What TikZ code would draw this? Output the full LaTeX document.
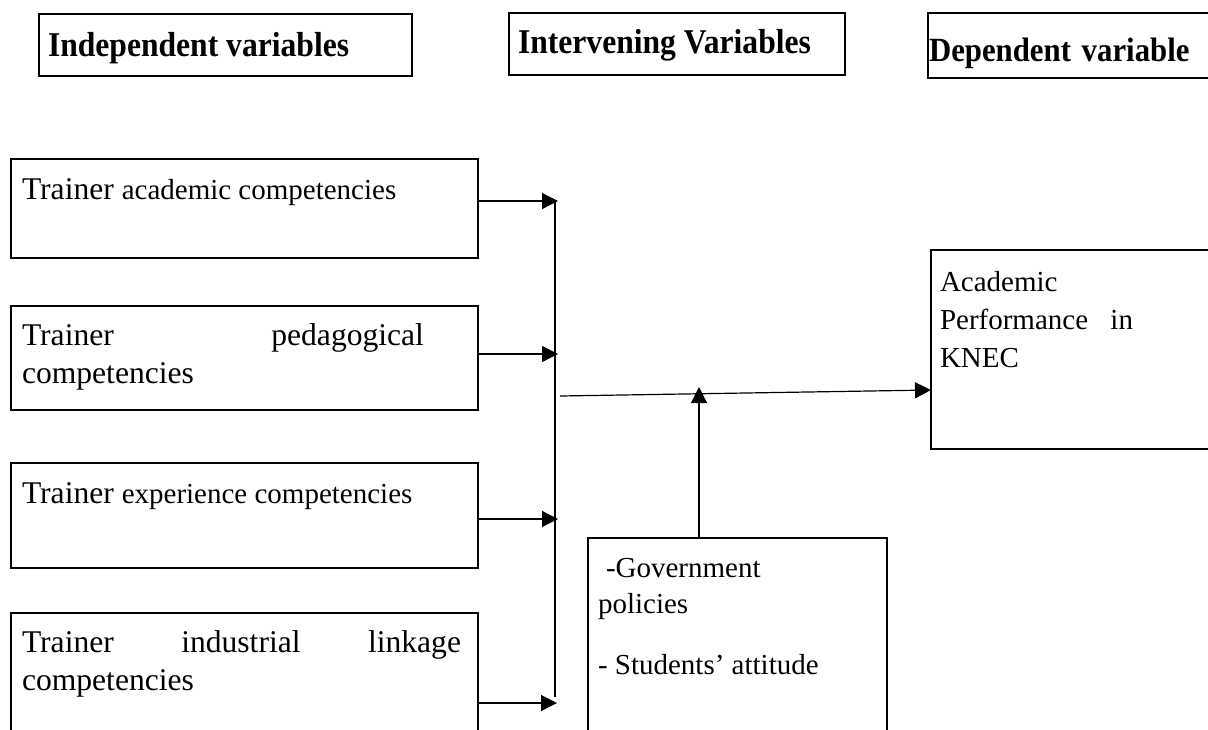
\documentclass[tikz,border=0pt]{standalone}
\usepackage{fontspec}
\usepackage{graphicx}
\setmainfont{Liberation Serif}
\usetikzlibrary{arrows.meta}

\newcommand{\minorsize}{\fontsize{14.5}{19}\selectfont}
\newcommand{\tallhead}[1]{\scalebox{1}[1.1]{#1}}

\begin{document}
\begin{tikzpicture}[
		x=0.5pt, y=-0.5pt,
		every node/.style={rectangle, draw, anchor=north west, inner sep=0pt, outer sep=0pt},
		headbox/.style={line width=0.6pt, inner xsep=4.5pt, font=\fontsize{15.8}{19}\selectfont\bfseries},
		indbox/.style={line width=1.1pt, inner xsep=5.5pt, font=\fontsize{15.8}{19}\selectfont},
		plainbox/.style={line width=0.7pt, font=\minorsize},
		link/.style={line width=0.6pt, -{Triangle[length=8pt,width=8pt]}}
	]
  \useasboundingbox (0,0) rectangle (1208,729);
  \clip (0,0) rectangle (1208,729);
  \node (hIndep) [headbox] at (39,14) {\parbox[b][31pt][t]{177.5pt}{\rule{0pt}{21pt}\tallhead{Independent variables}}};
  \node (hInterv) [headbox] at (509,13) {\parbox[b][31pt][t]{159pt}{\rule{0pt}{20pt}\tallhead{Intervening Variables}}};
  \node (hDep) [headbox, inner xsep=0.5pt] at (928,13) {\parbox[b][32.5pt][t]{149pt}{\fontsize{15.4}{19}\selectfont\rule{0pt}{24pt}\tallhead{Dependent\hspace{1.5pt} variable}}};
  \node (indA) [indbox] at (11,159) {\parbox[b][49.5pt][t]{222.5pt}{\rule{0pt}{20pt}Trainer {\minorsize academic competencies}}};
  \node (indB) [indbox] at (11,306) {\parbox[b][52pt][t]{222.5pt}{\rule{0pt}{19.5pt}\hbox to 201pt{Trainer\hfill pedagogical}\\ competencies}};
  \node (indC) [indbox] at (11,463) {\parbox[b][52.5pt][t]{222.5pt}{\rule{0pt}{20pt}Trainer {\minorsize experience competencies}}};
  \node (indD) [indbox] at (11,613) {\parbox[b][93.5pt][t]{222.5pt}{\rule{0pt}{19.5pt}\hbox to 219.5pt{Trainer\hfill industrial\hfill linkage}\\ competencies}};
  \node (depAP) [plainbox, line width=0.8pt, inner xsep=4.5pt] at (931,250) {\parbox[b][99.5pt][t]{141pt}{\rule{0pt}{20.5pt}Academic\\ \hbox to 96.5pt{Performance\hfill in}\\ KNEC}};
  \node (intGov) [plainbox, line width=0.6pt, inner xsep=5pt] at (588,538) {\parbox[b][131pt][t]{139.5pt}{\fontsize{14.5}{18}\selectfont\rule{0pt}{19.5pt}\hspace{4pt}-Government\\ policies\\[12.5pt] - Students’ attitude}};
  \coordinate (busTop) at (555,201);
  \coordinate (busBot) at (555,697);
  \coordinate (tipA) at (558,201);
  \coordinate (tipB) at (558,354);
  \coordinate (tipC) at (558,519);
  \coordinate (tipD) at (557,703);
  \coordinate (mainStart) at (560,396);
  \coordinate (perfIn) at (931,390);
  \coordinate (upTip) at (699,387);
  \draw [link] (indA.east |- tipA) -- (tipA);
  \draw [link] (indB.east |- tipB) -- (tipB);
  \draw [link] (indC.east |- tipC) -- (tipC);
  \draw [link] (indD.east |- tipD) -- (tipD);
  \draw [line width=0.6pt] (busTop) -- (busBot);
  \draw [link] (mainStart) -- (perfIn);
  \draw [link] (intGov.north -| upTip) -- (upTip);
\end{tikzpicture}
\end{document}
